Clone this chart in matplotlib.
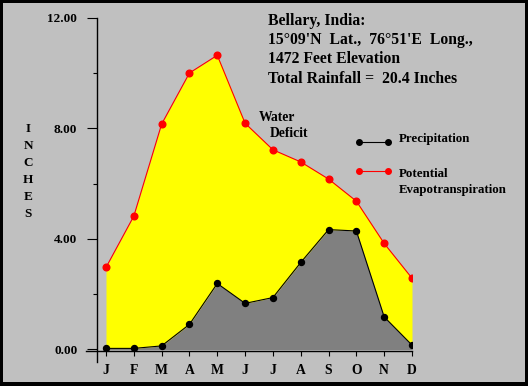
"""
Water budget chart for Bellary, India.
"""

import matplotlib
matplotlib.use('Agg')
import matplotlib.pyplot as plt
import numpy as np
from matplotlib.lines import Line2D
from matplotlib.patches import Rectangle

months = ['J', 'F', 'M', 'A', 'M', 'J', 'J', 'A', 'S', 'O', 'N', 'D']
precipitation = [0.04, 0.04, 0.13, 0.91, 2.39, 1.67, 1.88, 3.15, 4.34, 4.29, 1.18, 0.16]
potential_et = [2.97, 4.83, 8.16, 10.01, 10.65, 8.19, 7.23, 6.79, 6.17, 5.37, 3.84, 2.58]
y_ticks = [0, 4, 8, 12]
y_tick_labels = ['0.00', '4.00', '8.00', '12.00']
y_minor_ticks = [2, 6, 10]

title_lines = ['Bellary, India:',
               "15\u00b009'N  Lat.,  76\u00b051'E  Long.,",
               '1472 Feet Elevation',
               'Total Rainfall =  20.4 Inches']

W, H = 528, 386
SERIF = ['Liberation Serif', 'DejaVu Serif']


def fx(x):
    return x / W


def fy(y):
    return 1 - y / H


fig = plt.figure(figsize=(W / 100, H / 100), dpi=100, facecolor='black')
fig.patches.append(Rectangle((fx(3), fy(382)), fx(522), 379 / H, transform=fig.transFigure,
                             facecolor='#c0c0c0', edgecolor='none', zorder=-1))

# axes box spans the y-axis line (x=97) to December (x=412), 0.00 line to 12.00
ax = fig.add_axes([fx(97), fy(351), fx(315), 333 / H])
ax.set_zorder(1)
ax.patch.set_visible(False)
for s in ax.spines.values():
    s.set_visible(False)

x = np.arange(len(months))
ax.set_xlim(-9 / 27.8, 11)
ax.set_ylim(-1.5 / 27.6, 12)

ax.fill_between(x, 0, precipitation, color='#808080', lw=0)
ax.fill_between(x, precipitation, potential_et, color='#ffff00', lw=0)
ax.plot(x, potential_et, color='red', lw=0.8, marker='o', ms=4.8, mec='red', zorder=3)
ax.plot(x, precipitation, color='black', lw=0.8, marker='o', ms=4.3, zorder=3)

# axis lines, overshooting like the original
ax.plot([0, 0], [-11 / 333, 1], transform=ax.transAxes, color='black', lw=1, clip_on=False)
ax.plot([-11 / 315, 1], [0, 0], transform=ax.transAxes, color='black', lw=1, clip_on=False)

ax.set_yticks(y_ticks)
ax.set_yticklabels(y_tick_labels, family=SERIF, fontweight='bold', fontsize=9.5)
ax.set_yticks(y_minor_ticks, minor=True)
ax.tick_params(axis='y', which='major', length=7.2, width=0.8, pad=7)
ax.tick_params(axis='y', which='minor', length=2.9, width=0.8)
ax.set_xticks(x)
ax.set_xticklabels(months, family=SERIF, fontweight='bold', fontsize=9.8)
ax.tick_params(axis='x', length=3.6, width=0.8, pad=5.5)

for i, line in enumerate(title_lines):
    fig.text(fx(268), fy(25 + 19.2 * i), line, family=SERIF, fontweight='bold',
             fontsize=11.3, va='baseline')

for i, ch in enumerate('INCHES'):
    fig.text(fx(28), fy(131.7 + 17.1 * i), ch, family=SERIF, fontweight='bold',
             fontsize=9.5, ha='center', va='baseline')

fig.text(fx(259), fy(120.7), 'Water', family=SERIF, fontweight='bold', fontsize=9.8, va='baseline')
fig.text(fx(270), fy(137.3), 'Deficit', family=SERIF, fontweight='bold', fontsize=9.8, va='baseline')

# legend
fig.add_artist(Line2D([fx(359), fx(388)], [fy(142), fy(142)], transform=fig.transFigure,
                      color='black', lw=0.8, marker='o', ms=4))
fig.add_artist(Line2D([fx(359), fx(388)], [fy(171), fy(171)], transform=fig.transFigure,
                      color='red', lw=0.8, marker='o', ms=4))
fig.text(fx(399), fy(141.7), 'Precipitation', family=SERIF, fontweight='bold', fontsize=9.3, va='baseline')
fig.text(fx(399), fy(176.7), 'Potential', family=SERIF, fontweight='bold', fontsize=9.3, va='baseline')
fig.text(fx(399), fy(193.3), 'Evapotranspiration', family=SERIF, fontweight='bold', fontsize=9.3,
         va='baseline')

fig.savefig('out.png', dpi=100, facecolor='black')
